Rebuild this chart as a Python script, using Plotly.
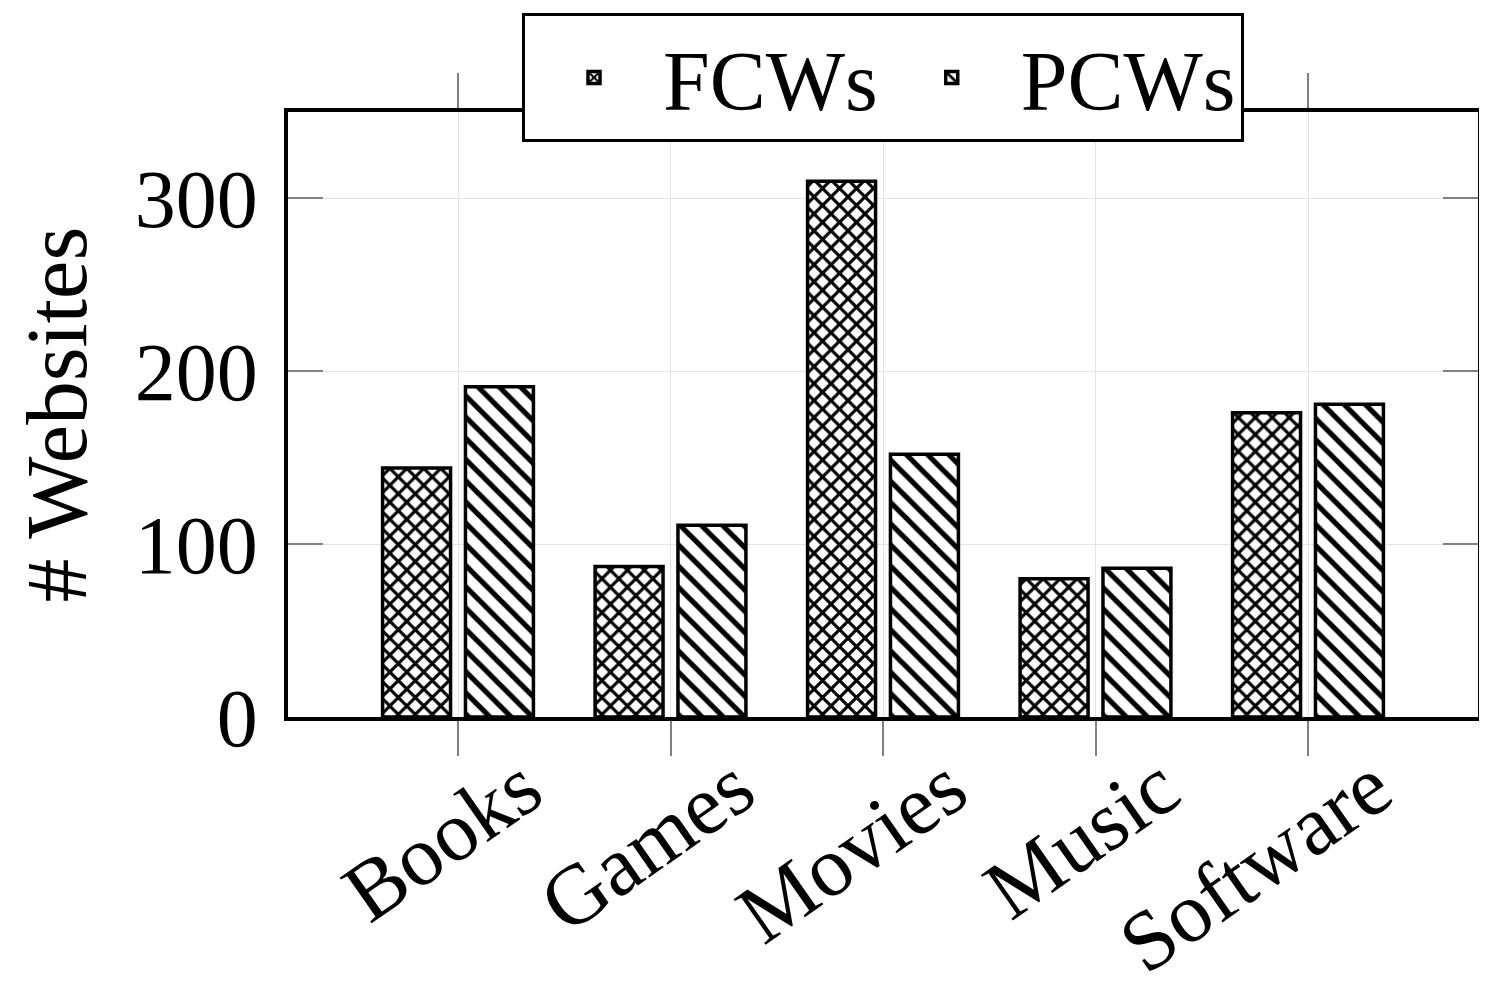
import plotly.graph_objects as go

# Data
categories = ["Books", "Games", "Movies", "Music", "Software"]
fcws = [144, 87, 310, 80, 176]
pcws = [191, 111, 152, 86, 181]

FONT = "Liberation Serif"

fig = go.Figure()

fig.add_trace(go.Bar(
    name="FCWs",
    x=categories,
    y=fcws,
    marker=dict(
        color="white",
        line=dict(color="black", width=3.5),
        pattern=dict(shape="x", fgcolor="#000000", fgopacity=1, bgcolor="white",
                     size=12, solidity=0.45),
    ),
))

fig.add_trace(go.Bar(
    name="PCWs",
    x=categories,
    y=pcws,
    marker=dict(
        color="white",
        line=dict(color="black", width=3.5),
        pattern=dict(shape="\\", fgcolor="#000000", fgopacity=1, bgcolor="white",
                     size=15, solidity=0.35),
    ),
))

# the page body adds a small offset, so the figure is drawn a bit smaller
fig.update_layout(
    width=1480,
    height=990,
    barmode="group",
    bargap=0.22,
    bargroupgap=0.18,
    plot_bgcolor="white",
    paper_bgcolor="white",
    font=dict(family=FONT, size=82, color="black"),
    margin=dict(l=280, r=10, t=104, b=281, autoexpand=False),
    legend=dict(
        orientation="h",
        x=0.5,
        xanchor="center",
        y=1.163,
        yanchor="top",
        bgcolor="white",
        bordercolor="black",
        borderwidth=3,
        font=dict(family=FONT, size=84),
        itemwidth=128,
        tracegroupgap=0,
    ),
)

fig.update_xaxes(
    range=[-0.8, 4.8],
    automargin=False,
    showline=True,
    linecolor="black",
    linewidth=3.5,
    mirror="ticks",
    ticks="outside",
    ticklen=35,
    tickwidth=2,
    tickcolor="#808080",
    showgrid=True,
    gridcolor="#e3e3e3",
    gridwidth=1,
    tickangle=-35,
    ticklabelshift=65,
    ticklabelstandoff=-50,
    tickfont=dict(family=FONT, size=85),
)

fig.update_yaxes(
    range=[0, 350],
    tickvals=[0, 100, 200, 300],
    automargin=False,
    showline=True,
    linecolor="black",
    linewidth=3.5,
    mirror="ticks",
    ticks="inside",
    ticklen=35,
    tickwidth=2,
    tickcolor="#808080",
    showgrid=True,
    gridcolor="#e3e3e3",
    gridwidth=1,
    zeroline=False,
    ticklabelstandoff=10,
    tickfont=dict(family=FONT, size=82),
    title=dict(text="# Websites", font=dict(family=FONT, size=87), standoff=44),
)

fig.write_html("out.html")
